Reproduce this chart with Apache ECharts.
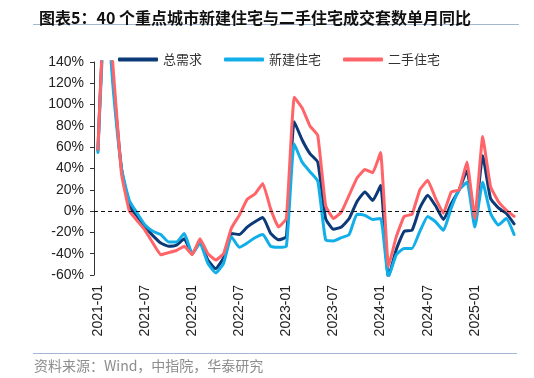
<!DOCTYPE html>
<html>
<head>
<meta charset="utf-8">
<script src="https://cdn.jsdelivr.net/npm/echarts@6/dist/echarts.min.js"></script>
<style>
  html, body { margin: 0; padding: 0; background: #fff; }
  #chart { width: 534px; height: 378px; }
</style>
</head>
<body>
<div id="chart"></div>
<script>
// 月份：2021-01 ~ 2025-06
var months = []
for (var y = 2021; y <= 2025; y++) {
  for (var m = 1; m <= 12; m++) {
    if (y === 2025 && m > 6) break
    months.push(y + '-' + (m < 10 ? '0' + m : m))
  }
}

// 总需求
var totalDemand = [57, 210, 118, 40, 5, -5, -15, -23, -30, -33, -32, -26,
  -40, -29, -46, -54, -44, -21, -22, -15, -10, -6, -21, -27,
  -24, 84, 67, 54, 46, -7, -17, -15, -7, 9, 18, 10,
  24, -62, -36, -19, -18, 3, 15, 5, -8, 7, 20, 38,
  -8, 52, 12, 3, -2, -12]
// 新建住宅
var newHome = [55, 200, 110, 40, 10, -2, -13, -19, -22, -29, -29, -21,
  -40, -30, -49, -58, -49, -24, -34, -30, -25, -22, -33, -34,
  -33, 63, 46, 37, 28, -27, -28, -25, -22, -3, -4, -8,
  -7, -62, -41, -35, -35, -19, -5, -10, -18, 3, 20, 27,
  -15, 27, -2, -13, -7, -22]
// 二手住宅
var secondHand = [58, 220, 128, 35, 0, -9, -18, -30, -41, -39, -37, -33,
  -41, -26, -40, -46, -40, -16, -4, 11, 16, 26, 2, -15,
  -7, 107, 97, 80, 71, 5, -7, -1, 15, 31, 39, 36,
  55, -52, -24, -5, -3, 20, 29, 12, -2, 18, 20, 46,
  -7, 70, 23, 9, 1, -5]

var myChart = echarts.init(document.getElementById('chart'))
var cjk = '"Noto Sans CJK SC", sans-serif'
var latin = '"Liberation Sans", Arial, sans-serif'

myChart.setOption({
  animation: false,
  title: {
    text: '图表5：40 个重点城市新建住宅与二手住宅成交套数单月同比',
    left: 34,
    top: 5,
    textStyle: {
      fontFamily: cjk,
      fontSize: 16,
      fontWeight: 'bold',
      color: '#111',
    },
  },
  graphic: [
    {
      type: 'line',
      shape: { x1: 33, y1: 24.5, x2: 519, y2: 24.5 },
      style: { stroke: '#a3b8d0', lineWidth: 1 },
    },
    {
      type: 'line',
      shape: { x1: 33, y1: 353.5, x2: 517, y2: 353.5 },
      style: { stroke: '#a3b8d0', lineWidth: 1 },
    },
    {
      type: 'text',
      left: 34,
      top: 359,
      style: {
        text: '资料来源：Wind，中指院，华泰研究',
        fill: '#8c8c8c',
        font: '14px ' + cjk,
      },
    },
  ],
  legend: {
    left: 113,
    top: 48,
    icon: 'roundRect',
    itemWidth: 40,
    itemHeight: 4,
    itemGap: 22,
    textStyle: {
      fontFamily: cjk,
      fontSize: 13,
      color: '#333',
    },
    data: ['总需求', '新建住宅', '二手住宅'],
  },
  grid: {
    left: 94,
    right: 16,
    top: 62,
    bottom: 103,
    containLabel: false,
  },
  xAxis: {
    type: 'category',
    data: months,
    boundaryGap: true,
    axisLine: { show: false },
    axisTick: { show: false },
    axisLabel: {
      interval: 5,
      rotate: 90,
      margin: 10,
      fontFamily: latin,
      fontSize: 14,
      color: '#222',
    },
  },
  yAxis: {
    type: 'value',
    min: -60,
    max: 140,
    interval: 20,
    axisLine: {
      show: true,
      lineStyle: { color: '#333', width: 1 },
    },
    axisTick: {
      show: true,
      length: 4,
      lineStyle: { color: '#333' },
    },
    splitLine: { show: false },
    axisLabel: {
      formatter: '{value}%',
      margin: 10,
      fontFamily: latin,
      fontSize: 14,
      color: '#222',
    },
  },
  series: [
    {
      name: '总需求',
      type: 'line',
      data: totalDemand,
      symbol: 'none',
      smooth: 0.15,
      lineStyle: { color: '#0c3a78', width: 3, join: 'round', cap: 'round' },
      itemStyle: { color: '#0c3a78' },
      markLine: {
        silent: true,
        symbol: 'none',
        label: { show: false },
        lineStyle: { color: '#111', width: 1, type: [4, 3] },
        data: [{ yAxis: 0 }],
      },
    },
    {
      name: '新建住宅',
      type: 'line',
      data: newHome,
      symbol: 'none',
      smooth: 0.15,
      lineStyle: { color: '#12aee8', width: 3, join: 'round', cap: 'round' },
      itemStyle: { color: '#12aee8' },
    },
    {
      name: '二手住宅',
      type: 'line',
      data: secondHand,
      symbol: 'none',
      smooth: 0.1,
      lineStyle: { color: '#ff6468', width: 3, join: 'round', cap: 'round' },
      itemStyle: { color: '#ff6468' },
    },
  ],
})
</script>
</body>
</html>
